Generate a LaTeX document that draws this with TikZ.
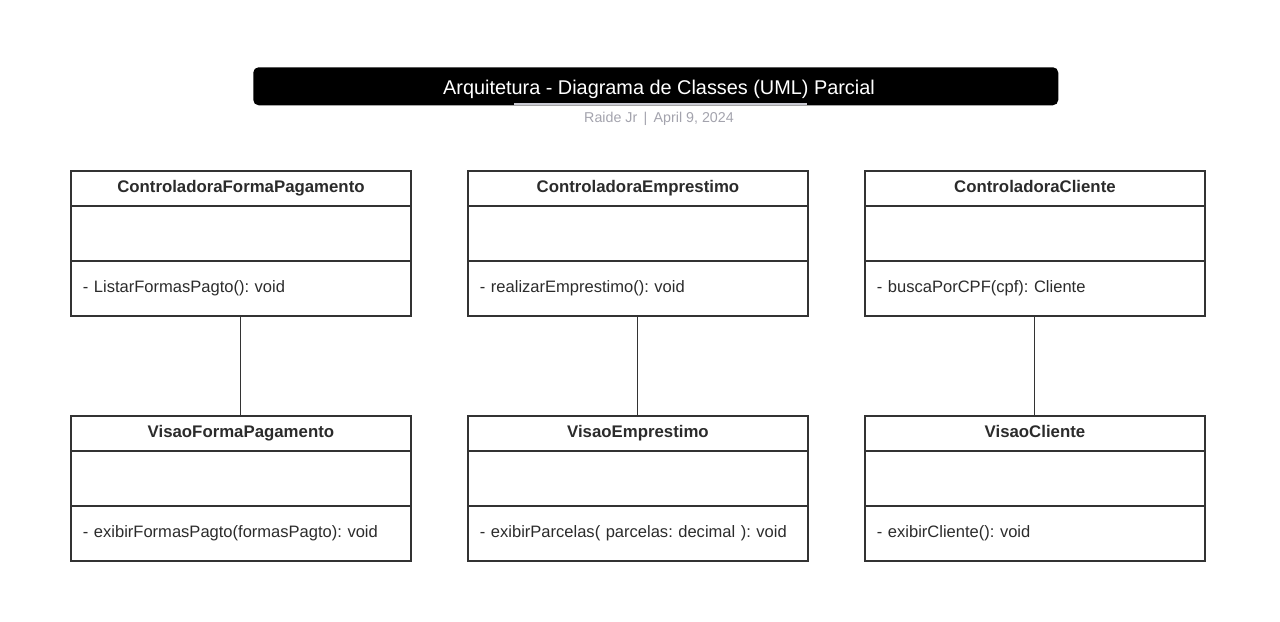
\documentclass[tikz,border=0pt]{standalone}
\usepackage{fontspec}
\setmainfont{Liberation Sans}
\frenchspacing
\definecolor{linegray}{HTML}{333333}
\definecolor{textgray}{HTML}{2B2B2B}
\definecolor{subgray}{HTML}{A3A3AD}
\definecolor{rulegray}{HTML}{C9C9D2}
\tikzset{
	classname/.style = {draw = linegray, line width = 1.4pt, text = textgray, anchor = north west,
		minimum width = 255pt, minimum height = 26.25pt, inner sep = 0,
		text height = 9.5pt, text depth = 3pt,
		font = \bfseries\fontsize{12.6}{14}\selectfont},
	classbody/.style = {draw = linegray, line width = 1.4pt, text = textgray, anchor = north west,
		text width = 237pt, inner xsep = 9pt, inner ysep = 0, minimum height = 41.25pt,
		text height = 9.5pt, text depth = 3pt,
		align = left, font = \fontsize{12.4}{14}\selectfont},
	assoc/.style = {draw = linegray, line width = .7pt}
}
\begin{document}
\begin{tikzpicture}[x = .75pt, y = -.75pt]
\useasboundingbox (0, 0) rectangle (1280, 621);
% title
\node [fill = black, rounded corners = 4pt, minimum width = 603.75pt, minimum height = 28.5pt, anchor = north west] (title) at (253, 67) {};
\node [text = white, font = \fontsize{14.9}{17}\selectfont] (titletext) at (659, 89) {Arquitetura - Diagrama de Classes (UML) Parcial};
\draw [rulegray, line width = 1.2pt] (514, 104) -- (807, 104);
\node [text = subgray, font = \fontsize{10.7}{12}\selectfont] (sub) at (659, 118.5) {Raide Jr\ \,|\ \,April 9, 2024};
% classes
\foreach \i/\x/\ctrl/\ctrlm/\vis/\vism in {
	1/70/ControladoraFormaPagamento/- ListarFormasPagto(): void/VisaoFormaPagamento/- exibirFormasPagto(formasPagto): void,
	2/467/ControladoraEmprestimo/- realizarEmprestimo(): void/VisaoEmprestimo/- exibirParcelas( parcelas: decimal ): void,
	3/864/ControladoraCliente/- buscaPorCPF(cpf): Cliente/VisaoCliente/- exibirCliente(): void}{
	\node [classname] (c\i) at (\x, 170) {\ctrl};
	\node [classbody] (c\i a) at (\x, 205) {};
	\node [classbody] (c\i m) at (\x, 260) {\ctrlm};
	\node [classname] (v\i) at (\x, 415) {\vis};
	\node [classbody] (v\i a) at (\x, 450) {};
	\node [classbody] (v\i m) at (\x, 505) {\vism};
	\draw [assoc] (c\i m.south) -- (v\i.north);
};
\end{tikzpicture}
\end{document}
